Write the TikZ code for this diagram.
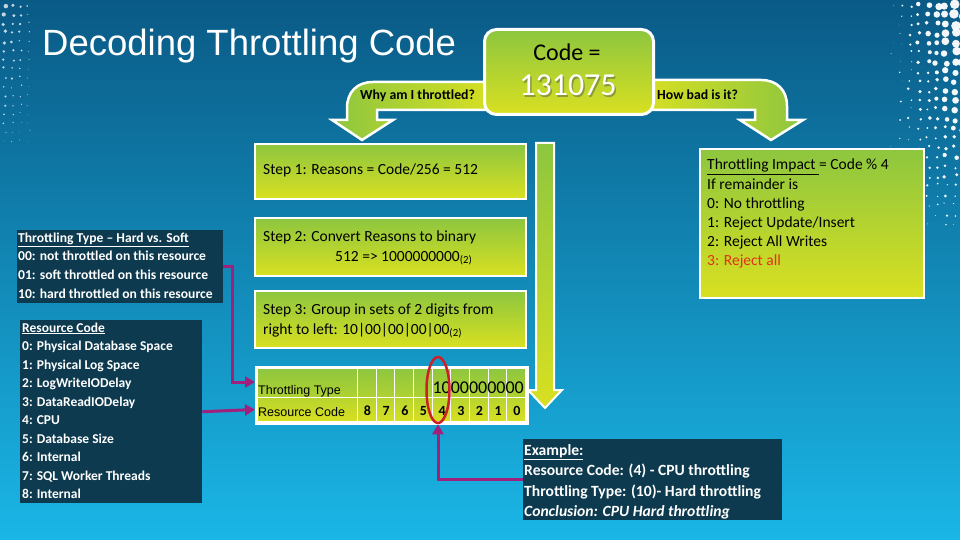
\documentclass[tikz,border=0pt]{standalone}
\usepackage{fontspec}
\setmainfont{Carlito}
\newfontfamily\arialf{Liberation Sans}
\usetikzlibrary{shapes.geometric,arrows.meta,calc}
\definecolor{bgtop}{HTML}{0A5A86}
\definecolor{bgmid}{HTML}{0C84BA}
\definecolor{bgbot}{HTML}{1AB6E6}
\definecolor{gtop}{HTML}{8DC63F}
\definecolor{gbot}{HTML}{D9E021}
\definecolor{darkbox}{HTML}{0D3A4F}
\definecolor{conncol}{HTML}{A0207C}
\definecolor{ellred}{HTML}{CC1F26}
\definecolor{redtext}{HTML}{E2301C}
\tikzset{
  greenbox/.style={draw=white, line width=2pt, top color=gtop, bottom color=gbot, anchor=north west, inner sep=0pt},
  darkpanel/.style={fill=darkbox, anchor=north west, inner sep=0pt},
  arrowshape/.style={draw=white, line width=2.5pt, line join=miter},
  txt/.style={inner sep=0pt, anchor=north west, align=left},
  btxt/.style={inner sep=0pt, anchor=base west},
  steptxt/.style={inner sep=0pt, anchor=base west, font=\fontsize{15.5}{15.5}\selectfont},
  cellA/.style={draw=white, line width=1pt, top color=gtop, bottom color=gtop!55!gbot, anchor=north west, inner sep=0pt},
  cellB/.style={draw=white, line width=1pt, top color=gtop!45!gbot, bottom color=gbot, anchor=north west, inner sep=0pt},
  conn/.style={draw=conncol, line width=3pt, -{Triangle[length=10pt,width=11pt]}},
}
\begin{document}
\begin{tikzpicture}[x=1pt,y=-1pt]
\useasboundingbox (0,0) rectangle (960,540);
\shade[top color=bgtop, middle color=bgmid, bottom color=bgbot] (0,0) rectangle (960,540);
% decorative dots
\pgfmathsetseed{17}
\foreach \i in {0,...,8}{
  \foreach \j in {0,...,23}{
    \pgfmathsetmacro\r{max(0,(\i/8)*5.2*(1-\j/27)+rnd*1.2-0.6)}
    \fill[white, opacity=0.95] (890+\i*9+rnd*4, 3+\j*9.5+rnd*4) circle (\r);
  }
}
\foreach \i in {0,...,3}{
  \foreach \j in {0,...,15}{
    \pgfmathsetmacro\r{max(0.3,(1-\i/4)*1.8*(1-\j/17)+rnd*0.5)}
    \fill[white, opacity=0.75] (3+\i*8+rnd*3, 4+\j*9+rnd*3) circle (\r);
  }
}
% title
\node[btxt, text=white, font=\arialf\fontsize{36.5}{36.5}\selectfont] (title) at (42,56) {Decoding Throttling Code};
% bent arrows
\path[arrowshape, left color=gtop, right color=gbot] (495,82) -- (373,82) .. controls (357,82) and (347,92) .. (347,108) -- (347,120) -- (332,120) -- (362,140) -- (393,120) -- (377,120) -- (377,110) -- (495,110) -- cycle;
\path[arrowshape, left color=gbot, right color=gtop] (640,80) -- (761,80) .. controls (777,80) and (787,90) .. (787,106) -- (787,120) -- (803,120) -- (771,140) -- (740,120) -- (755,120) -- (755,110) -- (640,110) -- cycle;
\node[btxt, font=\bfseries\fontsize{13.8}{13.8}\selectfont] (why) at (360,100) {Why am I throttled?};
\node[btxt, font=\bfseries\fontsize{13.8}{13.8}\selectfont] (howbad) at (657,100) {How bad is it?};
% code box
\node[greenbox, line width=3pt, rounded corners=12pt, minimum width=169pt, minimum height=85pt] (codebox) at (483,28) {};
\node[inner sep=0pt, anchor=base, font=\fontsize{24}{24}\selectfont] (codelbl) at (567,61) {Code =};
\node[inner sep=0pt, anchor=base, text=black!70, opacity=0.45, font=\fontsize{32}{32}\selectfont] (codeshadow) at (569.5,97.5) {131075};
\node[inner sep=0pt, anchor=base, text=white, font=\fontsize{32}{32}\selectfont] (codeval) at (568,96) {131075};
% vertical arrow
\path[arrowshape, line width=2pt, top color=gtop, bottom color=gbot] (536,143) -- (554,143) -- (554,390) -- (562,390) -- (545,408) -- (528,390) -- (536,390) -- cycle;
% step boxes
\node[greenbox, minimum width=271pt, minimum height=55pt] (step1) at (254,143) {};
\node[steptxt] (step1t) at (263,175) {Step 1: Reasons = Code/256 = 512};
\node[greenbox, minimum width=271pt, minimum height=58pt] (step2) at (254,217) {};
\node[steptxt] (step2a) at (263,241) {Step 2: Convert Reasons to binary};
\node[steptxt] (step2b) at (335,261) {512 => 1000000000\textsubscript{(2)}};
\node[greenbox, minimum width=271pt, minimum height=57pt] (step3) at (254,290) {};
\node[steptxt] (step3a) at (263,314) {Step 3: Group in sets of 2 digits from};
\node[steptxt] (step3b) at (263,334) {right to left: 10|00|00|00|00\textsubscript{(2)}};
% impact box
\node[greenbox, minimum width=224pt, minimum height=149pt] (impact) at (699,148) {};
\node[txt, font=\fontsize{15.5}{19.2}\selectfont] (impactt) at (707,159) {\underline{Throttling Impact\ }= Code \% 4\\If remainder is\\0: No throttling\\1: Reject Update/Insert\\2: Reject All Writes\\\textcolor{redtext}{3: Reject all}};
% dark panels
\node[darkpanel, minimum width=206pt, minimum height=73pt] (ttbox) at (17,230) {};
\node[txt, text=white, font=\bfseries\fontsize{13.6}{18.7}\selectfont] (ttboxt) at (18,232.5) {\underline{Throttling Type -- Hard vs. Soft}\\00: not throttled on this resource\\01: soft throttled on this resource\\10: hard throttled on this resource};
\node[darkpanel, minimum width=182pt, minimum height=183pt] (rcbox) at (20,320) {};
\node[txt, text=white, font=\bfseries\fontsize{13.5}{18.5}\selectfont] (rcboxt) at (22,322.5) {\underline{Resource Code}\\0: Physical Database Space\\1: Physical Log Space\\2: LogWriteIODelay\\3: DataReadIODelay\\4: CPU\\5: Database Size\\6: Internal\\7: SQL Worker Threads\\8: Internal};
\node[darkpanel, minimum width=259pt, minimum height=81pt] (exbox) at (523,439) {};
\node[txt, text=white, font=\bfseries\fontsize{15.6}{20.5}\selectfont] (exboxt) at (524,444) {\underline{Example:}\\Resource Code: (4) - CPU throttling\\Throttling Type: (10)- Hard throttling\\\textit{Conclusion: CPU Hard throttling}};
% table
\node[cellA, minimum width=102pt, minimum height=31pt] (ttcell) at (255,366) {};
\node[cellB, minimum width=102pt, minimum height=24pt] (rccell) at (255,397) {};
\foreach \c [count=\k from 0] in {8,7,6,5,4,3,2,1,0}{
  \pgfmathsetmacro\xl{357+\k*18.667}
  \node[cellA, minimum width=18.667pt, minimum height=31pt] (ta\k) at (\xl,366) {};
  \node[cellB, minimum width=18.667pt, minimum height=24pt] (tb\k) at (\xl,397) {};
  \node[inner sep=0pt, anchor=base, font=\bfseries\fontsize{14}{14}\selectfont] (num\k) at (\xl+10.5,415) {\c};
}
\node[draw=white, line width=3pt, minimum width=271pt, minimum height=56pt, anchor=north west, inner sep=0pt] (tablebox) at (254.5,365.5) {};
\node[btxt, font=\arialf\fontsize{12.5}{12.5}\selectfont] (ttlbl) at (258,394) {Throttling Type};
\node[btxt, font=\arialf\fontsize{12.5}{12.5}\selectfont] (rclbl) at (258,416) {Resource Code};
\node[inner sep=0pt, anchor=base east, font=\fontsize{18}{18}\selectfont] (bits) at (524,393) {1000000000};
% ellipse
\node[ellipse, draw=ellred, line width=2.5pt, minimum width=23pt, minimum height=66pt, inner sep=0pt] (ell) at (438,390) {};
% connectors
\draw[conn] (ttbox.east) -- ++(9,0) |- (ttcell.west);
\draw[conn] (rcbox.east) -- (rccell.west);
\draw[conn] (exbox.west) -| (ell.south);
\end{tikzpicture}
\end{document}
